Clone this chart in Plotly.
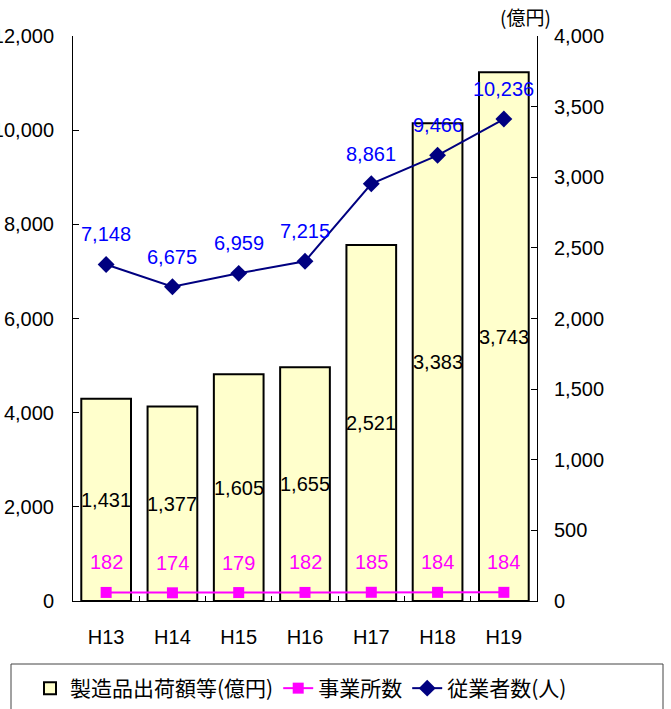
import plotly.graph_objects as go

years = ["H13", "H14", "H15", "H16", "H17", "H18", "H19"]
shipments = [1431, 1377, 1605, 1655, 2521, 3383, 3743]          # 製造品出荷額等(億円)
establishments = [182, 174, 179, 182, 185, 184, 184]             # 事業所数
employees = [7148, 6675, 6959, 7215, 8861, 9466, 10236]          # 従業者数(人)

left_ticks = [0, 2000, 4000, 6000, 8000, 10000, 12000]
right_ticks = [0, 500, 1000, 1500, 2000, 2500, 3000, 3500, 4000]

NUM_FONT = "Arial, 'Liberation Sans', sans-serif"
JP_FONT = "'Noto Sans CJK JP', 'Noto Sans', sans-serif"
FS = 20

# plot area in pixels
L, R, T, B = 73, 537, 36, 601
W, H = 671, 709
PW, PH = R - L, B - T

def px_x(p):
    return (p - L) / PW

def px_y(p):
    return (B - p) / PH

fig = go.Figure()

fig.add_trace(go.Bar(
    x=years, y=shipments, name="製造品出荷額等(億円)",
    marker=dict(color="#FFFFCC", line=dict(color="black", width=2)),
    yaxis="y", textposition="none",
))
fig.add_trace(go.Scatter(
    x=years, y=establishments, name="事業所数", mode="lines+markers",
    line=dict(color="#FF00FF", width=2),
    marker=dict(symbol="square", size=11, color="#FF00FF"),
    yaxis="y2",
))
fig.add_trace(go.Scatter(
    x=years, y=employees, name="従業者数(人)", mode="lines+markers",
    line=dict(color="#000080", width=2),
    marker=dict(symbol="diamond", size=13, color="#000080"),
    yaxis="y2",
))

annotations = []
for x, v in zip(years, shipments):
    annotations.append(dict(x=x, y=v / 2, xref="x", yref="y", text=f"{v:,}",
                            showarrow=False, font=dict(family=NUM_FONT, size=FS, color="black")))
for x, v in zip(years, establishments):
    annotations.append(dict(x=x, y=v, xref="x", yref="y2", text=f"{v:,}", yshift=30,
                            showarrow=False, font=dict(family=NUM_FONT, size=FS, color="#FF00FF")))
for x, v in zip(years, employees):
    annotations.append(dict(x=x, y=v, xref="x", yref="y2", text=f"{v:,}", yshift=30,
                            showarrow=False, font=dict(family=NUM_FONT, size=FS, color="#0000FF")))
annotations.append(dict(x=1, y=1, xref="paper", yref="paper", xanchor="center", yanchor="bottom",
                        xshift=-12, yshift=4, text="(億円)", showarrow=False,
                        font=dict(family=JP_FONT, size=19, color="black")))

# legend frame (extends past bottom edge like the reference)
shapes = [dict(type="rect", xref="paper", yref="paper",
               x0=px_x(11), x1=px_x(663), y0=px_y(716), y1=px_y(664),
               line=dict(color="#444444", width=1), fillcolor="rgba(0,0,0,0)", layer="above")]

fig.update_layout(
    width=W, height=H,
    margin=dict(l=L, r=W - R, t=T, b=H - B, autoexpand=False),
    paper_bgcolor="white", plot_bgcolor="white",
    bargap=0.25,
    showlegend=True,
    font=dict(family=NUM_FONT, size=FS, color="black"),
    xaxis=dict(
        type="category", showline=True, linecolor="black", linewidth=1,
        ticks="inside", ticklen=5, tickcolor="black", tickson="boundaries",
        ticklabelstandoff=18, showgrid=False, tickfont=dict(size=FS), automargin=False,
    ),
    yaxis=dict(
        side="right", range=[0, 4000], tickvals=right_ticks,
        tickformat=",d", showline=True, linecolor="black", linewidth=1,
        ticks="inside", ticklen=6, tickcolor="black", showgrid=False,
        ticklabelstandoff=12, zeroline=False, tickfont=dict(size=FS), automargin=False,
    ),
    yaxis2=dict(
        side="left", overlaying="y", range=[0, 12000], tickvals=left_ticks,
        tickformat=",d", showline=True, linecolor="black", linewidth=1,
        ticks="inside", ticklen=6, tickcolor="black", showgrid=False,
        ticklabelstandoff=14, zeroline=False, tickfont=dict(size=FS), automargin=False,
    ),
    legend=dict(
        orientation="h", x=px_x(572), xanchor="right", y=px_y(668), yanchor="top",
        borderwidth=0, bgcolor="rgba(0,0,0,0)",
        font=dict(family=JP_FONT, size=21, color="black"),
        itemwidth=30, traceorder="normal",
    ),
    shapes=shapes,
    annotations=annotations,
)

fig.write_html("out.html", config={"displayModeBar": False},
               post_script="document.body.style.margin='0px';")
